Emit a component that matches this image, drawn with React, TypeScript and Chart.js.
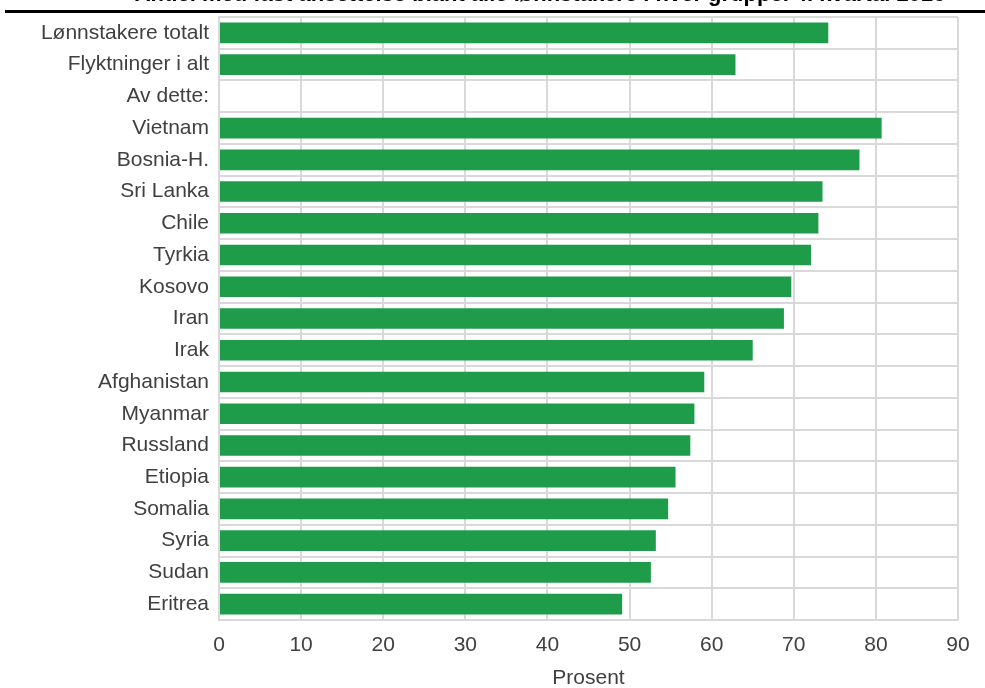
import React, { useEffect, useRef } from "react";
import { Chart, registerables } from "chart.js";

Chart.register(...registerables);

const titleText =
  "Andel med fast ansettelse blant alle lønnstakere i hver gruppe. 4. kvartal 2016";

const categories = [
  "Lønnstakere totalt",
  "Flyktninger i alt",
  "Av dette:",
  "Vietnam",
  "Bosnia-H.",
  "Sri Lanka",
  "Chile",
  "Tyrkia",
  "Kosovo",
  "Iran",
  "Irak",
  "Afghanistan",
  "Myanmar",
  "Russland",
  "Etiopia",
  "Somalia",
  "Syria",
  "Sudan",
  "Eritrea",
];

const values: (number | null)[] = [
  74.2, 62.9, null, 80.7, 78.0, 73.5, 73.0, 72.1, 69.7, 68.8, 65.0, 59.1, 57.9,
  57.4, 55.6, 54.7, 53.2, 52.6, 49.1,
];

const xMin = 0;
const xMax = 90;
const xStep = 10;
const xTitle = "Prosent";

export default function App() {
  const ref = useRef<HTMLCanvasElement | null>(null);

  useEffect(() => {
    if (!ref.current) return;
    const font = { family: "'Liberation Sans', Arial, sans-serif", size: 21 };
    const chart = new Chart(ref.current, {
      type: "bar",
      data: {
        labels: categories,
        datasets: [
          {
            data: values,
            backgroundColor: "#1e9c4a",
            borderWidth: 0,
            categoryPercentage: 1,
            barPercentage: 0.65,
          },
        ],
      },
      options: {
        indexAxis: "y",
        animation: false,
        responsive: false,
        maintainAspectRatio: false,
        layout: { padding: { top: 0, right: 27, left: 0, bottom: 0 } },
        plugins: { legend: { display: false }, tooltip: { enabled: false }, title: { display: false } },
        scales: {
          x: {
            min: xMin,
            max: xMax,
            ticks: { stepSize: xStep, color: "#404040", font, padding: 13 },
            grid: { color: "#d9d9d9", lineWidth: 2, drawTicks: false },
            border: { color: "#d9d9d9", width: 2 },
            title: { display: true, text: xTitle, color: "#404040", font, padding: { top: 0, bottom: 0 } },
            afterFit: (s: any) => {
              s.height = 71;
            },
          },
          y: {
            ticks: { color: "#404040", font, padding: 10, autoSkip: false },
            grid: { color: "#d9d9d9", lineWidth: 2, drawTicks: false, offset: true },
            border: { color: "#d9d9d9", width: 2 },
            afterFit: (s: any) => {
              s.width = 219;
              s.paddingTop = 17;
              s.paddingBottom = 0;
            },
          },
        },
      },
    });
    return () => chart.destroy();
  }, []);

  return (
    <div style={{ position: "absolute", left: 0, top: 0, width: 985, height: 688, overflow: "hidden", background: "#fff" }}>
      <canvas ref={ref} width={985} height={691} style={{ position: "absolute", left: 0, top: 0 }} />
      <div style={{ position: "absolute", left: 0, top: 0, width: 985, height: 9, overflow: "hidden" }}>
        <div
          style={{
            position: "absolute",
            left: 100,
            width: 880,
            top: -17.5,
            textAlign: "center",
            fontFamily: "'Liberation Sans', Arial, sans-serif",
            fontWeight: "bold",
            fontSize: 22,
            lineHeight: "22px",
            whiteSpace: "nowrap",
            color: "#000",
          }}
        >
          {titleText}
        </div>
      </div>
      <div style={{ position: "absolute", left: 5, top: 10, width: 980, height: 3, background: "#000" }} />
    </div>
  );
}
